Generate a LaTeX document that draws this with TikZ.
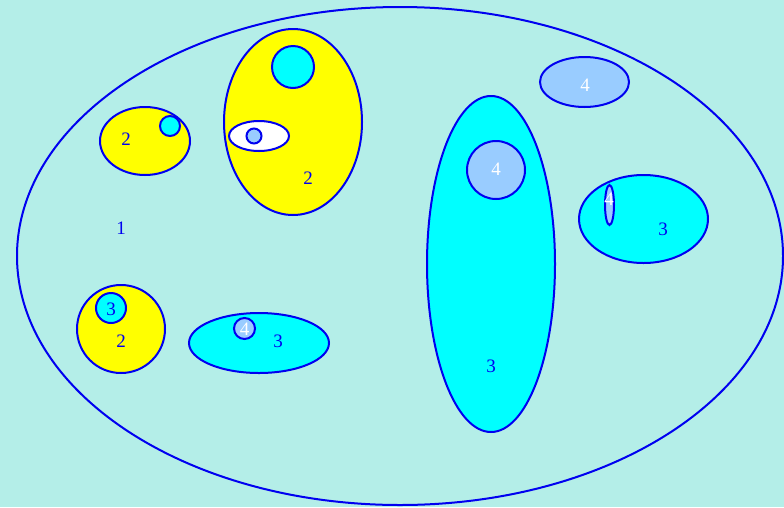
\documentclass[tikz,border=0pt]{standalone}
\usepackage{fontspec}
\setmainfont{Liberation Serif}
\usetikzlibrary{shapes.geometric}
\definecolor{bgc}{RGB}{180,238,232}
\definecolor{lb}{RGB}{153,204,255}
\definecolor{ln}{RGB}{0,0,240}
\definecolor{cy}{RGB}{0,255,255}
\definecolor{ye}{RGB}{255,255,0}
\tikzset{
  ell/.style={ellipse, draw=ln, line width=2pt, inner sep=0pt},
  yel/.style={ell, fill=ye},
  cya/.style={ell, fill=cy},
  lbl/.style={ell, fill=lb},
  wht/.style={ell, fill=white},
  txt/.style={text=ln, font=\fontsize{19}{19}\selectfont, inner sep=0pt},
  wtxt/.style={text=white, font=\fontsize{19}{19}\selectfont, inner sep=0pt}
}
\begin{document}
\begin{tikzpicture}[x=1pt,y=-1pt]
\fill[bgc] (0,0) rectangle (784,507);
\useasboundingbox (0,0) rectangle (784,507);
% outer
\node[ell, minimum width=766pt, minimum height=498pt] (outer) at (400,256) {};
\node[txt] (l1) at (121,228) {1};
% top-left yellow
\node[yel, minimum width=90pt, minimum height=68pt] (y1) at (145,141) {};
\node[cya, minimum width=20pt, minimum height=20pt] (c1) at (170,126) {};
\node[txt] (l2a) at (126,139) {2};
% big yellow
\node[yel, minimum width=138pt, minimum height=186pt] (y2) at (293,122) {};
\node[cya, minimum width=42pt, minimum height=42pt] (c2) at (293,67) {};
\node[wht, minimum width=60pt, minimum height=30pt] (w1) at (259,136) {};
\node[lbl, minimum width=15pt, minimum height=15pt] (b1) at (254,136) {};
\node[txt] (l2b) at (308,178) {2};
% bottom-left yellow circle
\node[yel, minimum width=88pt, minimum height=88pt] (y3) at (121,329) {};
\node[cya, minimum width=30pt, minimum height=30pt] (c3) at (111,308) {};
\node[txt] (l3a) at (111,309) {3};
\node[txt] (l2c) at (121,341) {2};
% bottom cyan ellipse
\node[cya, minimum width=140pt, minimum height=60pt] (c4) at (259,343) {};
\node[lbl, minimum width=21pt, minimum height=21pt] (b2) at (244.5,328.5) {};
\node[wtxt] (l4a) at (244.5,329) {4};
\node[txt] (l3b) at (278,341) {3};
% big cyan ellipse
\node[cya, minimum width=128pt, minimum height=336pt] (c5) at (491,264) {};
\node[lbl, minimum width=58pt, minimum height=58pt] (b3) at (496,170) {};
\node[wtxt] (l4b) at (496,169) {4};
\node[txt] (l3c) at (491,366) {3};
% top-right light blue
\node[lbl, minimum width=89pt, minimum height=50pt] (b4) at (584.5,82) {};
\node[wtxt] (l4c) at (585,85) {4};
% right cyan ellipse
\node[cya, minimum width=129pt, minimum height=88pt] (c6) at (643.5,219) {};
\node[lbl, minimum width=9pt, minimum height=40pt] (b5) at (609.5,205) {};
\node[wtxt] (l4d) at (609,199) {4};
\node[txt] (l3d) at (663,229) {3};
\end{tikzpicture}
\end{document}
